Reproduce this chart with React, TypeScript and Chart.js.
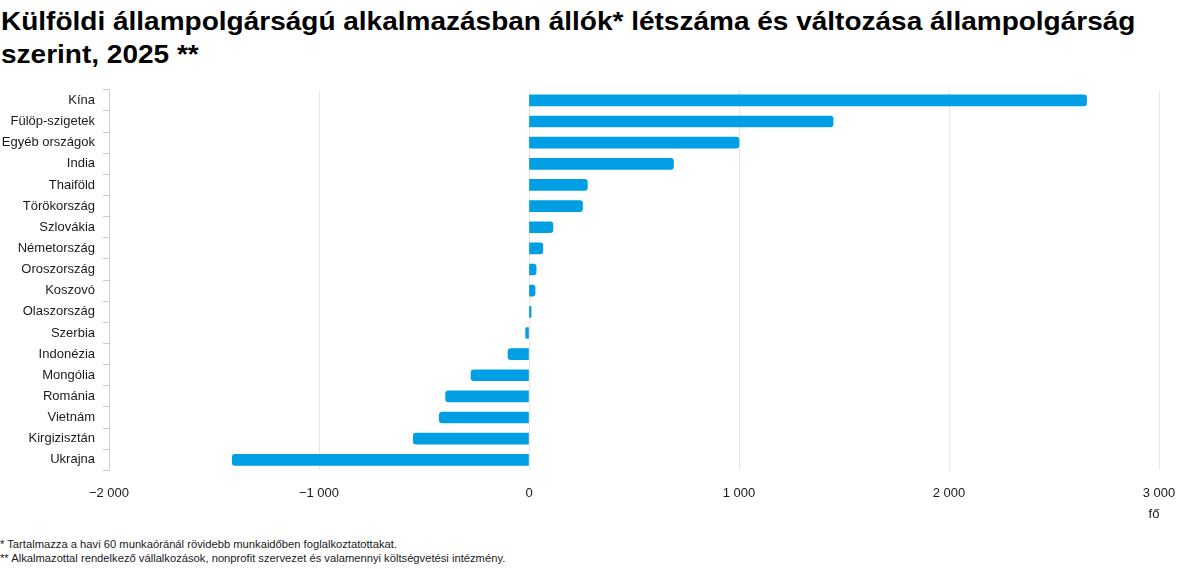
import React, { useEffect, useRef } from "react";
import { Chart, registerables } from "chart.js";

Chart.register(...registerables);

const titleLines = [
  "Külföldi állampolgárságú alkalmazásban állók* létszáma és változása állampolgárság",
  "szerint, 2025 **",
];

const countries = [
  "Kína",
  "Fülöp-szigetek",
  "Egyéb országok",
  "India",
  "Thaiföld",
  "Törökország",
  "Szlovákia",
  "Németország",
  "Oroszország",
  "Koszovó",
  "Olaszország",
  "Szerbia",
  "Indonézia",
  "Mongólia",
  "Románia",
  "Vietnám",
  "Kirgizisztán",
  "Ukrajna",
];

const changeValues = [
  2655, 1448, 1000, 688, 278, 255, 114, 66, 34, 29, 10, -16, -100, -276, -397, -427, -551, -1413,
];

const xTicks = [-2000, -1000, 0, 1000, 2000, 3000];
const unitLabel = "fő";

const footnotes = [
  "* Tartalmazza a havi 60 munkaóránál rövidebb munkaidőben foglalkoztatottakat.",
  "** Alkalmazottal rendelkező vállalkozások, nonprofit szervezet és valamennyi költségvetési intézmény.",
];

const FONT = "Arial, 'Liberation Sans', Helvetica, sans-serif";
const CANVAS_TOP = 74;

function fmt(v: number): string {
  const abs = Math.abs(v);
  const s = abs >= 1000 ? Math.floor(abs / 1000) + " " + String(abs % 1000).padStart(3, "0") : String(abs);
  return (v < 0 ? "\u2212" : "") + s;
}

export default function App() {
  const canvasRef = useRef<HTMLCanvasElement | null>(null);

  useEffect(() => {
    document.body.style.margin = "0";
    const canvas = canvasRef.current;
    if (!canvas) return;

    const unitPlugin = {
      id: "unitLabel",
      afterDraw(chart: any) {
        const xs = chart.scales.x;
        const ctx = chart.ctx;
        ctx.save();
        ctx.font = `13px ${FONT}`;
        ctx.fillStyle = "#1a1a1a";
        ctx.textAlign = "center";
        ctx.textBaseline = "middle";
        ctx.fillText(unitLabel, xs.getPixelForValue(xTicks[xTicks.length - 1]) - 5, 514 - CANVAS_TOP);
        ctx.restore();
      },
    };

    const chart = new Chart(canvas, {
      type: "bar",
      data: {
        labels: countries,
        datasets: [
          {
            data: changeValues,
            backgroundColor: "#009fe3",
            borderRadius: 3,
            barThickness: 11,
          },
        ],
      },
      options: {
        indexAxis: "y",
        animation: false,
        responsive: false,
        maintainAspectRatio: false,
        layout: { padding: { top: 3, right: 41, bottom: 14, left: 0 } },
        plugins: {
          legend: { display: false },
          tooltip: { enabled: false },
        },
        scales: {
          x: {
            type: "linear",
            min: -2000,
            max: 3000,
            afterBuildTicks: (scale: any) => {
              scale.ticks = xTicks.map((v) => ({ value: v }));
            },
            ticks: {
              callback: (v: any) => fmt(Number(v)),
              color: "#1a1a1a",
              font: { family: FONT, size: 13 },
              padding: 15,
              maxRotation: 0,
            },
            grid: { color: "#e6e6e6", drawTicks: false, lineWidth: 1 },
            border: { display: false },
          },
          y: {
            afterFit: (scale: any) => {
              scale.width = 109;
            },
            ticks: {
              color: "#1a1a1a",
              font: { family: FONT, size: 13 },
              padding: 8,
              autoSkip: false,
            },
            grid: {
              offset: true,
              drawOnChartArea: false,
              drawTicks: true,
              tickLength: 6,
              color: "#c8c8c8",
            },
            border: { display: true, color: "#d0d0d0" },
          },
        },
      },
      plugins: [unitPlugin],
    } as any);

    return () => chart.destroy();
  }, []);

  return (
    <div style={{ position: "relative", width: 1200, height: 569, background: "#fff", overflow: "hidden", fontFamily: FONT }}>
      <div
        style={{
          position: "absolute",
          left: 1,
          top: 5,
          fontSize: 25,
          fontWeight: "bold",
          lineHeight: "33px",
          color: "#000",
          whiteSpace: "nowrap",
          transform: "scaleX(1.12)",
          transformOrigin: "0 0",
        }}
      >
        {titleLines.map((t, i) => (
          <div key={i}>{t}</div>
        ))}
      </div>
      <canvas
        ref={canvasRef}
        width={1200}
        height={530 - CANVAS_TOP}
        style={{ position: "absolute", left: 0, top: CANVAS_TOP, width: 1200, height: 530 - CANVAS_TOP }}
      />
      <div
        style={{
          position: "absolute",
          left: 0,
          top: 538,
          fontSize: 10,
          lineHeight: "14px",
          color: "#1a1a1a",
          whiteSpace: "nowrap",
          transform: "scaleX(1.12)",
          transformOrigin: "0 0",
        }}
      >
        {footnotes.map((t, i) => (
          <div key={i}>{t}</div>
        ))}
      </div>
    </div>
  );
}
